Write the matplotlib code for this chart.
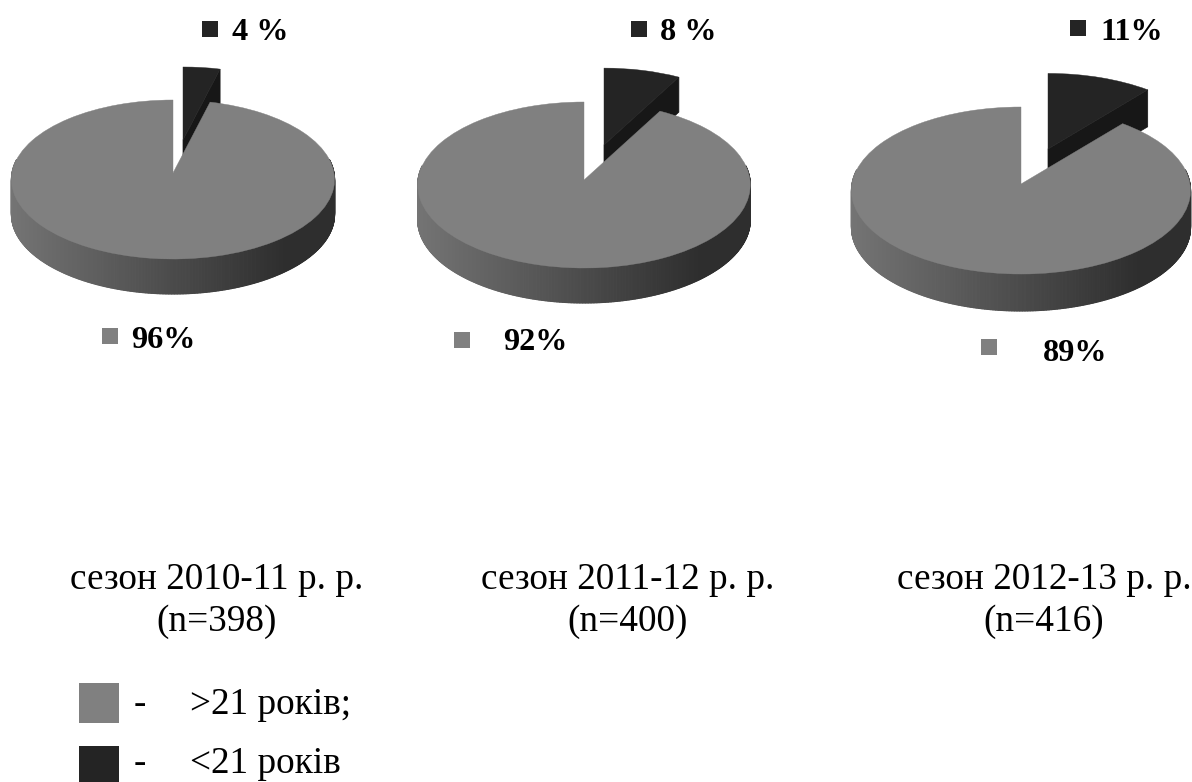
import numpy as np
import matplotlib
matplotlib.use("Agg")
import matplotlib.pyplot as plt
from matplotlib.patches import Wedge, Rectangle, Polygon
from matplotlib.transforms import Transform, Affine2D
from matplotlib.collections import PolyCollection

# ---- data ----
under_21 = [4, 8, 11]
over_21 = [96, 92, 89]
under_labels = ["4 %", "8 %", "11%"]
over_labels = ["96%", "92%", "89%"]
season_labels = ["сезон 2010-11 р. р.", "сезон 2011-12 р. р.", "сезон 2012-13 р. р."]
n_labels = ["(n=398)", "(n=400)", "(n=416)"]
legend_labels = [">21 років;", "<21 років"]

# ---- styles / layout (pixels) ----
W, H = 1192, 782
GREY, DARK, CUT = "#808080", "#242424", "#171717"
SERIF = "Liberation Serif"
apex = [(173, 173), (584, 180), (1021, 184)]
half_width = [161, 166, 169]
back_px = [73, 78, 77]
front_px = [86, 88, 90]
wall_px = [35, 35, 37]
shift_px = [(10, 33), (20, 35), (27, 35)]
slice_scale = [1.0, 0.985, 0.98]
under_square = [(202, 21), (631, 21), (1070, 20)]
under_text = [(232, 40), (660, 40), (1100, 40)]
over_square = [(102, 328), (454, 332), (981, 339)]
over_text = [(131, 348), (503, 350), (1043, 361)]
title_x = [217, 628, 1044]
title_y = [589, 631]
legend_y = [683, 746]
legend_base = [714, 773]
LABEL_SIZE = 23.2
TEXT_SIZE = 26.8


class Tilt(Transform):
    """Perspective view of the unit-disc plane."""
    input_dims = output_dims = 2
    has_inverse = False
    is_affine = False

    def __init__(self, a, k):
        super().__init__()
        self.a, self.k = a, k

    def transform_non_affine(self, v):
        v = np.asarray(v, float)
        w = 1 + self.k * v[:, 1]
        return np.column_stack([v[:, 0] / w, self.a * v[:, 1] / w])

    def transform_path_non_affine(self, path):
        return type(path)(self.transform_non_affine(path.vertices), path.codes)


plt.rcParams["font.family"] = [SERIF, "DejaVu Serif"]
fig = plt.figure(figsize=(W / 100, H / 100), dpi=100, facecolor="white")
overlay = fig.add_axes([0, 0, 1, 1], zorder=5)
overlay.set_xlim(0, W)
overlay.set_ylim(H, 0)
overlay.axis("off")
overlay.patch.set_alpha(0)

for i in range(3):
    ax_x, ax_y = apex[i]
    rx = half_width[i]
    back, front = back_px[i], front_px[i]
    a = 2 * back * front / (back + front) / rx
    k = (front - back) / (front + back)
    wall = wall_px[i] / rx
    ext = 1.3
    ax = fig.add_axes([(ax_x - rx) / W, 1 - (ax_y + rx * ext) / H,
                       2 * rx / W, 2 * rx * ext / H])
    ax.set_xlim(-1, 1)
    ax.set_ylim(-ext, ext)
    ax.axis("off")
    tilt = Tilt(a, k)

    frac = under_21[i] / (under_21[i] + over_21[i])
    end = 90 - 360 * frac
    dx, dy = shift_px[i][0] / rx, shift_px[i][1] / rx
    sc = slice_scale[i]

    def proj(x, y):
        return tilt.transform_non_affine(np.column_stack([x, y]))

    # exploded dark slice: cut face then top
    tip = proj(np.array([sc * np.cos(np.radians(end))]),
               np.array([sc * np.sin(np.radians(end))]))[0]
    o = np.array([dx, dy])
    face = [o, o + tip, o + tip - [0, wall], o - [0, wall]]
    ax.add_patch(Polygon(face, closed=True, fc=CUT, ec=CUT, lw=0.5, clip_on=False))
    w = Wedge((0, 0), sc, end, 90, fc=DARK, ec=DARK, lw=0.3, clip_on=False)
    w.set_transform(tilt + Affine2D().translate(dx, dy) + ax.transData)
    ax.add_patch(w)

    # front wall of the large slice, shaded from left to right
    angles = np.radians(np.arange(170, 370.5, 0.5))
    pts = proj(np.cos(angles), np.sin(angles))
    polys, cols = [], []
    for p, q in zip(pts[:-1], pts[1:]):
        polys.append([p, q, q - [0, wall], p - [0, wall]])
        t = np.clip((p[0] + 1) / 2, 0, 1)
        g = (0x74 + (0x2e - 0x74) * min(t / 0.85, 1)) / 255
        cols.append((g, g, g))
    ax.add_collection(PolyCollection(polys, facecolors=cols, edgecolors=cols,
                                     linewidths=0.8, clip_on=False))

    # top of the large slice
    g = Wedge((0, 0), 1, 90, end + 360, fc=GREY, ec=GREY, lw=0.3, clip_on=False)
    g.set_transform(tilt + ax.transData)
    ax.add_patch(g)

    # labels
    s = 16
    overlay.add_patch(Rectangle(under_square[i], s, s, fc=DARK, ec="none"))
    overlay.add_patch(Rectangle(over_square[i], s, s, fc=GREY, ec="none"))
    overlay.text(*under_text[i], under_labels[i], fontsize=LABEL_SIZE, fontweight="bold", va="baseline", ha="left")
    overlay.text(*over_text[i], over_labels[i], fontsize=LABEL_SIZE, fontweight="bold", va="baseline", ha="left")
    overlay.text(title_x[i], title_y[0], season_labels[i], fontsize=TEXT_SIZE, va="baseline", ha="center")
    overlay.text(title_x[i], title_y[1], n_labels[i], fontsize=TEXT_SIZE, va="baseline", ha="center")

for y, base, col, lab in zip(legend_y, legend_base, [GREY, DARK], legend_labels):
    overlay.add_patch(Rectangle((79, y), 40, 40, fc=col, ec="none"))
    overlay.text(134, base, "-", fontsize=TEXT_SIZE, va="baseline", ha="left")
    overlay.text(190, base, lab, fontsize=TEXT_SIZE, va="baseline", ha="left")

fig.savefig("out.png", dpi=100)
